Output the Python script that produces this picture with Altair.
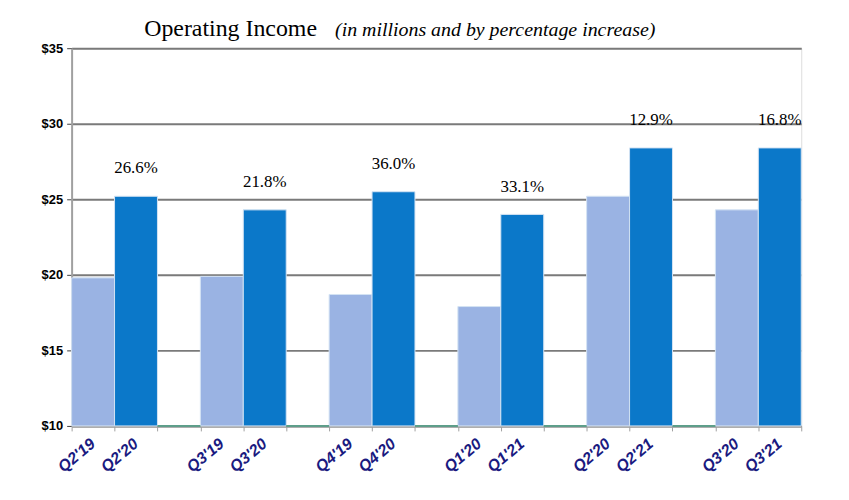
import altair as alt
import pandas as pd

labels = ["Q2'19", "Q2'20", "Q3'19", "Q3'20", "Q4'19", "Q4'20",
          "Q1'20", "Q1'21", "Q2'20", "Q2'21", "Q3'20", "Q3'21"]
values = [19.8, 25.2, 19.9, 24.3, 18.7, 25.5, 17.9, 24.0, 25.2, 28.4, 24.3, 28.4]
kinds = ["prior", "current"] * 6
slots = [0, 1, 3, 4, 6, 7, 9, 10, 12, 13, 15, 16]
gap_slots = [2, 5, 8, 11, 14]
pct_labels = ["26.6%", "21.8%", "36.0%", "33.1%", "12.9%", "16.8%"]
pct_slots = [1, 4, 7, 10, 13, 16]
pct_values = [25.2, 24.3, 25.5, 24.0, 28.4, 28.4]

bars = pd.DataFrame({
    "label": labels, "value": values, "kind": kinds,
    "x0": slots, "x1": [s + 1 for s in slots],
    "xc": [s + 0.5 for s in slots],
})
gaps = pd.DataFrame({"x0": gap_slots, "x1": [g + 1 for g in gap_slots], "y": [10] * 5})
pcts = pd.DataFrame({"t": pct_labels, "xc": [s + 0.5 for s in pct_slots], "value": pct_values})

xs = alt.Scale(domain=[0, 17], nice=False, zero=False)
ys = alt.Scale(domain=[10, 35], nice=False, zero=False)

base_bars = alt.Chart(bars).mark_bar(stroke="#d4e3f3", strokeWidth=1).encode(
    x=alt.X("x0:Q", scale=xs, axis=alt.Axis(
        values=list(range(18)), labels=False, title=None, grid=False,
        domainColor="#a0a0a0", domainWidth=2, tickColor="#a0a0a0", tickSize=5)),
    x2="x1:Q",
    y=alt.Y("value:Q", scale=ys, axis=alt.Axis(
        values=[10, 15, 20, 25, 30, 35], format="$d", title=None,
        labelFont="Liberation Sans", labelFontWeight="bold", labelFontSize=13,
        labelColor="#000000", labelPadding=4,
        grid=True, gridColor="#7a7a7a", gridWidth=2,
        domainColor="#a0a0a0", domainWidth=2, tickColor="#404040", tickSize=5)),
    y2=alt.datum(10),
    color=alt.Color("kind:N", scale=alt.Scale(domain=["prior", "current"],
                                              range=["#9ab3e3", "#0b78c9"]), legend=None),
)

gap_lines = alt.Chart(gaps).mark_rule(color="#5e9e8a", strokeWidth=2).encode(
    x=alt.X("x0:Q", scale=xs), x2="x1:Q", y=alt.Y("y:Q", scale=ys))

pct_text = alt.Chart(pcts).mark_text(
    font="Liberation Serif", fontSize=17, color="#000000", dy=-28, baseline="middle"
).encode(x=alt.X("xc:Q", scale=xs), y=alt.Y("value:Q", scale=ys), text="t:N")

x_labels = alt.Chart(bars).mark_text(
    font="Liberation Sans", fontSize=16, fontWeight="bold", fontStyle="italic",
    color="#1a1a80", angle=320, align="right", baseline="middle"
).encode(x=alt.X("xc:Q", scale=xs), y=alt.value(396), text="label:N")

title1 = alt.Chart(pd.DataFrame({"t": ["Operating  Income"]})).mark_text(
    font="Liberation Serif", fontSize=24, color="#000000", align="left", baseline="alphabetic"
).encode(x=alt.value(73), y=alt.value(-12), text="t:N")

title2 = alt.Chart(pd.DataFrame({"t": ["(in millions and by percentage increase)"]})).mark_text(
    font="Liberation Serif", fontSize=20, fontStyle="italic", color="#000000",
    align="left", baseline="alphabetic"
).encode(x=alt.value(265), y=alt.value(-12), text="t:N")

chart = alt.layer(base_bars, gap_lines, pct_text, x_labels, title1, title2).properties(
    width=734, height=380,
    autosize=alt.AutoSizeParams(type="none"),
    padding={"left": 64, "top": 39, "right": 40, "bottom": 60},
).configure_view(stroke="#a0a0a0", strokeWidth=2).configure(background="#ffffff")

chart.save("out.html", embed_options={"renderer": "svg", "actions": False})
